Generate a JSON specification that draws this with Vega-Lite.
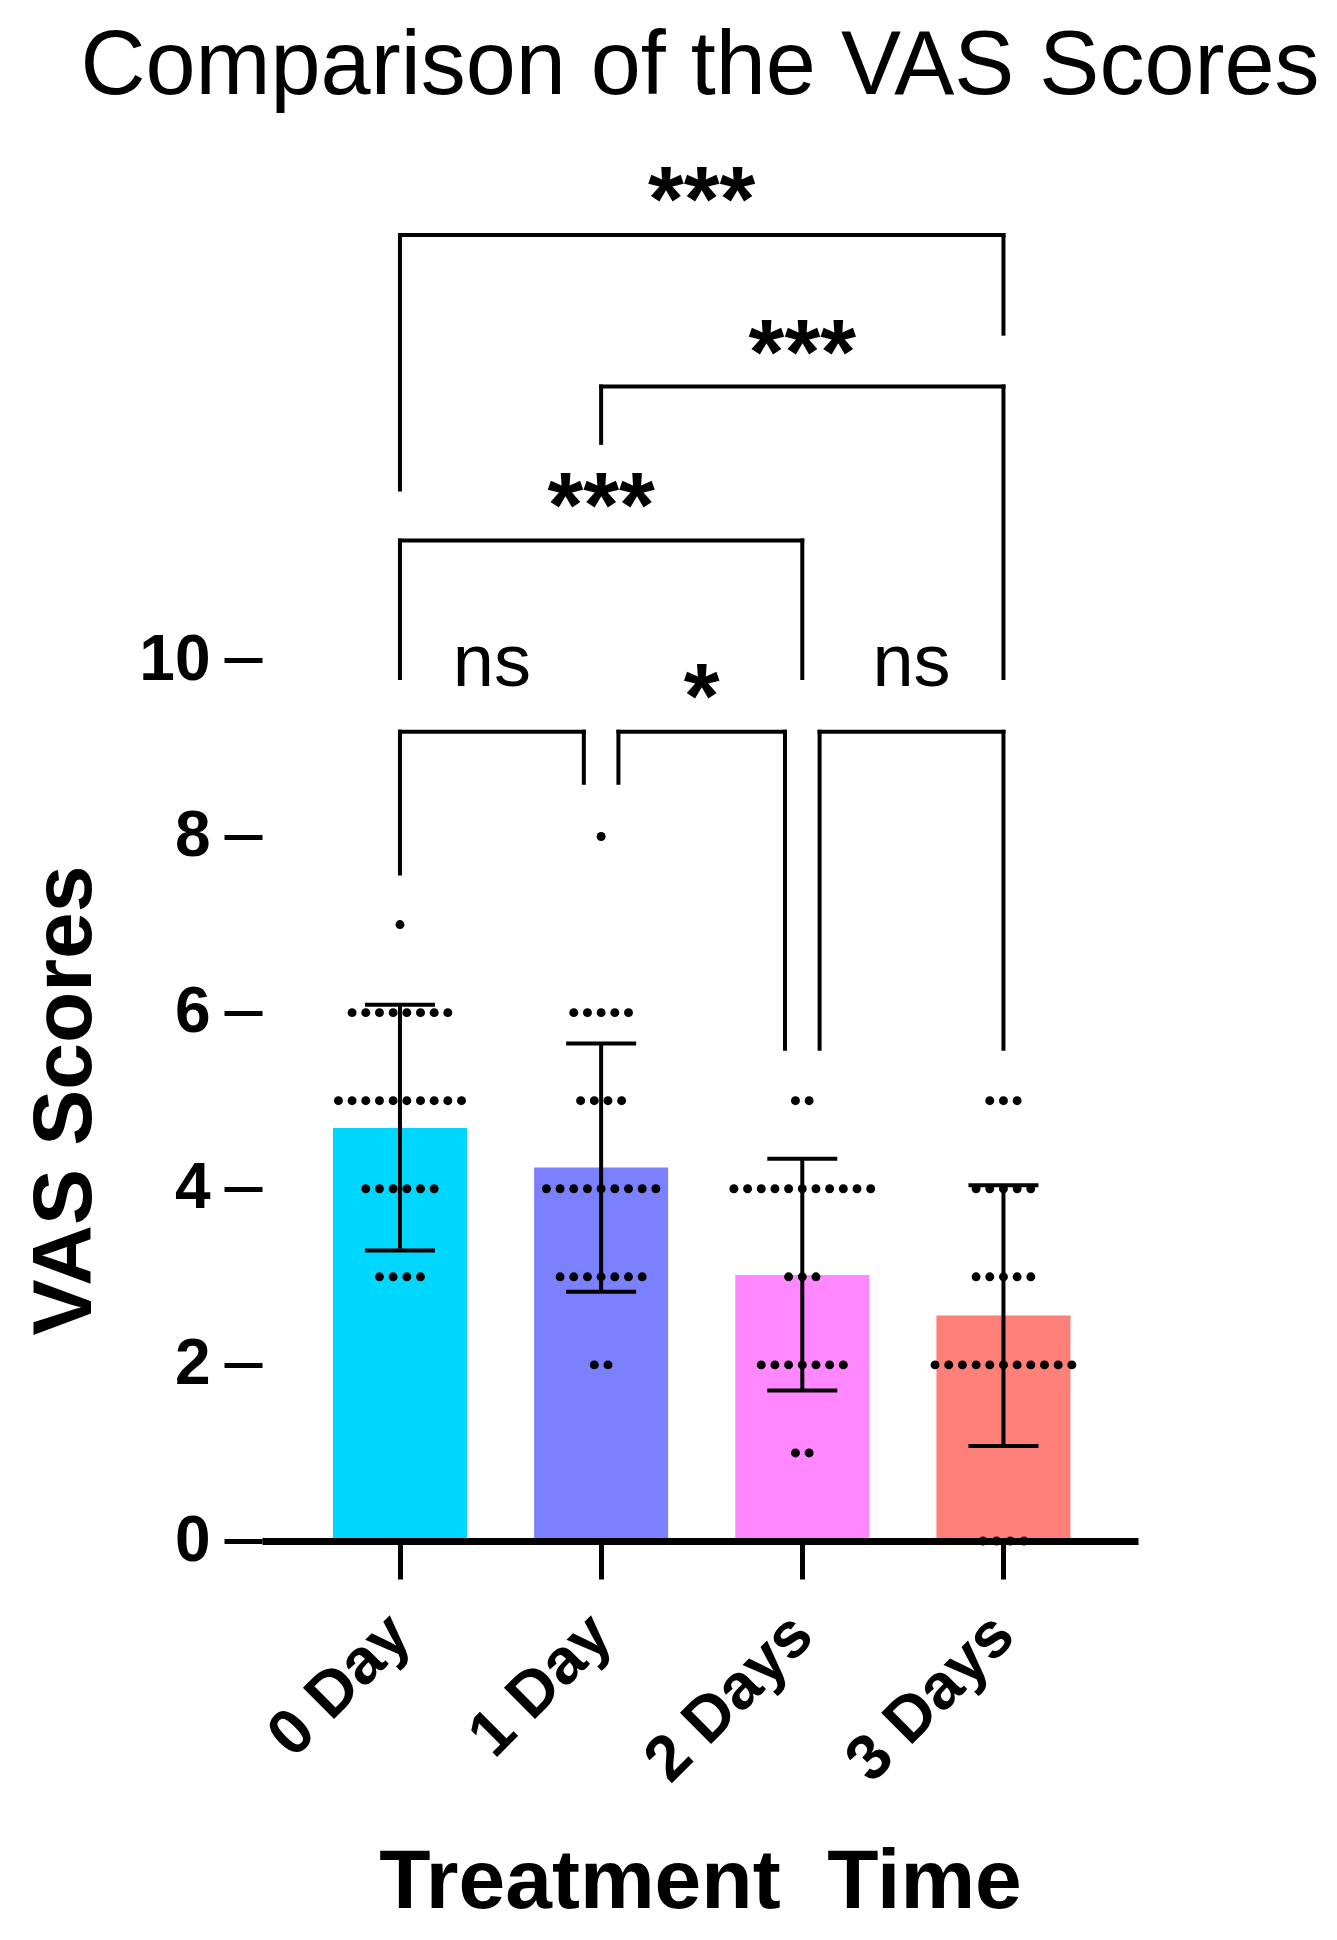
{
  "$schema": "https://vega.github.io/schema/vega-lite/v6.json",
  "width": 876,
  "height": 1409,
  "autosize": {"type": "none"},
  "padding": {"left": 262, "top": 132, "right": 199, "bottom": 399},
  "background": "white",
  "config": {"view": {"stroke": null}, "font": "Liberation Sans"},
  "title": {
    "text": "Comparison of the VAS Scores",
    "fontSize": 90,
    "fontWeight": "normal",
    "font": "Liberation Sans",
    "color": "black",
    "anchor": "middle",
    "frame": "group",
    "baseline": "alphabetic",
    "offset": 34,
    "dy": 86
  },
  "datasets": {
    "bars": [
      {"t": 0, "mean": 4.69, "lo": 3.30, "hi": 6.09},
      {"t": 1, "mean": 4.24, "lo": 2.83, "hi": 5.65},
      {"t": 2, "mean": 3.02, "lo": 1.71, "hi": 4.34},
      {"t": 3, "mean": 2.56, "lo": 1.08, "hi": 4.04}
    ],
    "brackets": [
      {"xa": 0, "xb": 3, "top": 14.83, "la": 11.94, "lb": 13.71, "label": "***", "ly": 15.37},
      {"xa": 1, "xb": 3, "top": 13.11, "la": 12.47, "lb": 9.80, "label": "***", "ly": 13.64},
      {"xa": 0, "xb": 2, "top": 11.36, "la": 9.80, "lb": 9.80, "label": "***", "ly": 11.90},
      {"xa": 0, "xb": 0.914, "top": 9.19, "la": 7.58, "lb": 8.61, "label": "ns", "ly": 9.93},
      {"xa": 1.086, "xb": 1.914, "top": 9.19, "la": 8.61, "lb": 5.59, "label": "*", "ly": 9.73},
      {"xa": 2.086, "xb": 3, "top": 9.19, "la": 5.59, "lb": 5.59, "label": "ns", "ly": 9.93}
    ],
    "dots": [
      {"t": 0, "score": 7},
      {"t": 0, "score": 6}, {"t": 0, "score": 6}, {"t": 0, "score": 6}, {"t": 0, "score": 6},
      {"t": 0, "score": 6}, {"t": 0, "score": 6}, {"t": 0, "score": 6}, {"t": 0, "score": 6},
      {"t": 0, "score": 5}, {"t": 0, "score": 5}, {"t": 0, "score": 5}, {"t": 0, "score": 5}, {"t": 0, "score": 5},
      {"t": 0, "score": 5}, {"t": 0, "score": 5}, {"t": 0, "score": 5}, {"t": 0, "score": 5}, {"t": 0, "score": 5},
      {"t": 0, "score": 4}, {"t": 0, "score": 4}, {"t": 0, "score": 4}, {"t": 0, "score": 4}, {"t": 0, "score": 4}, {"t": 0, "score": 4},
      {"t": 0, "score": 3}, {"t": 0, "score": 3}, {"t": 0, "score": 3}, {"t": 0, "score": 3},
      {"t": 1, "score": 8},
      {"t": 1, "score": 6}, {"t": 1, "score": 6}, {"t": 1, "score": 6}, {"t": 1, "score": 6}, {"t": 1, "score": 6},
      {"t": 1, "score": 5}, {"t": 1, "score": 5}, {"t": 1, "score": 5}, {"t": 1, "score": 5},
      {"t": 1, "score": 4}, {"t": 1, "score": 4}, {"t": 1, "score": 4}, {"t": 1, "score": 4}, {"t": 1, "score": 4},
      {"t": 1, "score": 4}, {"t": 1, "score": 4}, {"t": 1, "score": 4}, {"t": 1, "score": 4},
      {"t": 1, "score": 3}, {"t": 1, "score": 3}, {"t": 1, "score": 3}, {"t": 1, "score": 3}, {"t": 1, "score": 3},
      {"t": 1, "score": 3}, {"t": 1, "score": 3},
      {"t": 1, "score": 2}, {"t": 1, "score": 2},
      {"t": 2, "score": 5}, {"t": 2, "score": 5},
      {"t": 2, "score": 4}, {"t": 2, "score": 4}, {"t": 2, "score": 4}, {"t": 2, "score": 4}, {"t": 2, "score": 4},
      {"t": 2, "score": 4}, {"t": 2, "score": 4}, {"t": 2, "score": 4}, {"t": 2, "score": 4}, {"t": 2, "score": 4}, {"t": 2, "score": 4},
      {"t": 2, "score": 3}, {"t": 2, "score": 3}, {"t": 2, "score": 3},
      {"t": 2, "score": 2}, {"t": 2, "score": 2}, {"t": 2, "score": 2}, {"t": 2, "score": 2}, {"t": 2, "score": 2},
      {"t": 2, "score": 2}, {"t": 2, "score": 2},
      {"t": 2, "score": 1}, {"t": 2, "score": 1},
      {"t": 3, "score": 5}, {"t": 3, "score": 5}, {"t": 3, "score": 5},
      {"t": 3, "score": 4}, {"t": 3, "score": 4}, {"t": 3, "score": 4}, {"t": 3, "score": 4}, {"t": 3, "score": 4},
      {"t": 3, "score": 3}, {"t": 3, "score": 3}, {"t": 3, "score": 3}, {"t": 3, "score": 3}, {"t": 3, "score": 3},
      {"t": 3, "score": 2}, {"t": 3, "score": 2}, {"t": 3, "score": 2}, {"t": 3, "score": 2}, {"t": 3, "score": 2},
      {"t": 3, "score": 2}, {"t": 3, "score": 2}, {"t": 3, "score": 2}, {"t": 3, "score": 2}, {"t": 3, "score": 2}, {"t": 3, "score": 2},
      {"t": 3, "score": 0}, {"t": 3, "score": 0}, {"t": 3, "score": 0}, {"t": 3, "score": 0}
    ]
  },
  "layer": [
    {
      "data": {"name": "bars"},
      "mark": {"type": "bar", "width": 134},
      "encoding": {
        "x": {
          "field": "t",
          "type": "quantitative",
          "scale": {"domain": [-0.661, 3.644], "nice": false, "zero": false},
          "axis": {
            "values": [0, 1, 2, 3],
            "labelExpr": "['0 Day','1 Day','2 Days','3 Days'][datum.value]",
            "labelAngle": -45,
            "labelAlign": "right",
            "labelBaseline": "middle",
            "labelFontSize": 64,
            "labelFontWeight": "bold",
            "labelColor": "black",
            "labelPadding": 46,
            "labelLimit": 0,
            "labelOverlap": false,
            "labelFlush": false,
            "tickSize": 38,
            "tickWidth": 5,
            "tickColor": "black",
            "domainColor": "black",
            "domainWidth": 7,
            "grid": false,
            "zindex": 1,
            "title": "Treatment\u00a0 Time",
            "titleFontSize": 84,
            "titleFontWeight": "bold",
            "titleColor": "black",
            "titleBaseline": "alphabetic",
            "titleY": 366
          }
        },
        "y": {
          "field": "mean",
          "type": "quantitative",
          "scale": {"domain": [0, 16], "nice": false},
          "axis": {
            "values": [0, 2, 4, 6, 8, 10],
            "format": "d",
            "domain": false,
            "tickSize": 38,
            "tickWidth": 5,
            "tickColor": "black",
            "labelFontSize": 64,
            "labelFontWeight": "bold",
            "labelColor": "black",
            "labelPadding": 14,
            "labelFlush": false,
            "grid": false,
            "title": "VAS Scores",
            "titleFontSize": 84,
            "titleFontWeight": "bold",
            "titleColor": "black",
            "titleBaseline": "alphabetic",
            "titleX": -172,
            "titleY": 968
          }
        },
        "color": {
          "field": "t",
          "type": "nominal",
          "scale": {"domain": [0, 1, 2, 3], "range": ["#00d7ff", "#7b80ff", "#ff87ff", "#ff7f79"]},
          "legend": null
        }
      }
    },
    {
      "mark": {"type": "rule", "strokeWidth": 7, "color": "black", "strokeCap": "square"},
      "encoding": {
        "x": {"datum": -0.661, "type": "quantitative"},
        "y": {"datum": 0, "type": "quantitative"},
        "y2": {"datum": 10}
      }
    },
    {
      "data": {"name": "dots"},
      "transform": [
        {"window": [{"op": "row_number", "as": "k"}], "groupby": ["t", "score"]},
        {"joinaggregate": [{"op": "count", "as": "n"}], "groupby": ["t", "score"]},
        {"calculate": "datum.t + (datum.k - (datum.n + 1) / 2) * 0.068", "as": "xpos"}
      ],
      "mark": {"type": "point", "filled": true, "color": "black", "size": 80, "opacity": 1},
      "encoding": {
        "x": {"field": "xpos", "type": "quantitative"},
        "y": {"field": "score", "type": "quantitative"}
      }
    },
    {
      "data": {"name": "bars"},
      "mark": {"type": "rule", "strokeWidth": 4, "color": "black"},
      "encoding": {
        "x": {"field": "t", "type": "quantitative"},
        "y": {"field": "lo", "type": "quantitative"},
        "y2": {"field": "hi"}
      }
    },
    {
      "data": {"name": "bars"},
      "mark": {"type": "tick", "orient": "horizontal", "size": 70, "thickness": 4, "color": "black", "opacity": 1},
      "encoding": {
        "x": {"field": "t", "type": "quantitative"},
        "y": {"field": "lo", "type": "quantitative"}
      }
    },
    {
      "data": {"name": "bars"},
      "mark": {"type": "tick", "orient": "horizontal", "size": 70, "thickness": 4, "color": "black", "opacity": 1},
      "encoding": {
        "x": {"field": "t", "type": "quantitative"},
        "y": {"field": "hi", "type": "quantitative"}
      }
    },
    {
      "data": {"name": "brackets"},
      "mark": {"type": "rule", "strokeWidth": 4, "color": "black", "strokeCap": "square"},
      "encoding": {
        "x": {"field": "xa", "type": "quantitative"},
        "x2": {"field": "xb"},
        "y": {"field": "top", "type": "quantitative"}
      }
    },
    {
      "data": {"name": "brackets"},
      "mark": {"type": "rule", "strokeWidth": 4, "color": "black", "strokeCap": "square"},
      "encoding": {
        "x": {"field": "xa", "type": "quantitative"},
        "y": {"field": "top", "type": "quantitative"},
        "y2": {"field": "la"}
      }
    },
    {
      "data": {"name": "brackets"},
      "mark": {"type": "rule", "strokeWidth": 4, "color": "black", "strokeCap": "square"},
      "encoding": {
        "x": {"field": "xb", "type": "quantitative"},
        "y": {"field": "top", "type": "quantitative"},
        "y2": {"field": "lb"}
      }
    },
    {
      "data": {"name": "brackets"},
      "transform": [
        {"filter": "datum.label !== 'ns'"},
        {"calculate": "(datum.xa + datum.xb) / 2", "as": "mid"}
      ],
      "mark": {"type": "text", "fontSize": 92, "fontWeight": "bold", "color": "black", "baseline": "middle", "align": "center", "dy": 16},
      "encoding": {
        "x": {"field": "mid", "type": "quantitative"},
        "y": {"field": "ly", "type": "quantitative"},
        "text": {"field": "label"}
      }
    },
    {
      "data": {"name": "brackets"},
      "transform": [
        {"filter": "datum.label === 'ns'"},
        {"calculate": "(datum.xa + datum.xb) / 2", "as": "mid"}
      ],
      "mark": {"type": "text", "fontSize": 74, "fontWeight": "normal", "color": "black", "baseline": "middle", "align": "center", "dy": -3},
      "encoding": {
        "x": {"field": "mid", "type": "quantitative"},
        "y": {"field": "ly", "type": "quantitative"},
        "text": {"field": "label"}
      }
    }
  ]
}
